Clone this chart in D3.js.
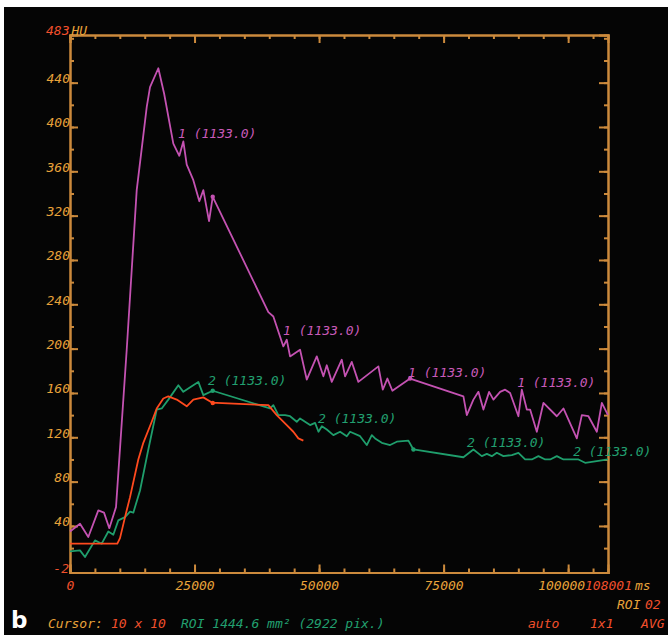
<!DOCTYPE html>
<html>
<head>
<meta charset="utf-8">
<style>
  body { margin: 0; background: #fff; }
  svg { display: block; }
  text { font-family: "DejaVu Sans Mono", monospace; font-style: italic; font-size: 13px; }
</style>
<script src="https://d3js.org/d3.v7.min.js"></script>
</head>
<body>
<svg width="668" height="635"></svg>
<script>
// time (ms) and enhancement (HU) per ROI
var roi1Time = [0, 2008, 3675, 5683, 6827, 7891, 9237, 11385, 13393, 15401, 16064, 17731, 18900, 20742, 21947, 22751, 23434, 24758, 25963, 26767, 27911, 28654,
  39818, 40822, 42830, 43513, 44177, 46184, 47529, 49537, 50863, 51545, 52550, 54557, 55220, 56565, 57891, 61907, 62791, 63714, 64718, 68272,
  78975, 79658, 80983, 81987, 82991, 84135, 85000, 86344, 87348, 88352, 90018, 90701, 91705, 92368, 93713, 95038, 97728, 99053, 101743, 102747, 104072, 105759, 106763, 108001];
var roi1HU = [35, 42, 30, 54, 52, 38, 57, 199, 343, 418, 436, 453, 430, 385, 374, 387, 366, 352, 333, 343, 315, 337,
  233, 229, 202, 208, 193, 199, 172, 193, 175, 185, 170, 190, 175, 188, 170, 184, 163, 173, 162, 173,
  157, 140, 154, 161, 145, 161, 154, 161, 163, 160, 139, 163, 145, 145, 125, 151, 139, 146, 119, 140, 139, 125, 151, 140];

var roi2Time = [0, 2008, 3012, 5020, 6365, 7691, 8695, 9699, 11044, 12048, 12711, 14056, 15722, 17409, 18413, 19739, 21747, 22751, 24437, 25762, 26767, 28654,
  40160, 40822, 41827, 43172, 44176, 45521, 46184, 48192, 49196, 49879, 50562, 51545, 52871, 54216, 55562, 56225, 58233, 59578, 60582, 61245, 62590, 64256, 65602, 67931, 68935,
  78975, 80983, 82670, 83674, 84678, 85682, 87007, 88693, 90018, 91364, 92709, 94034, 95378, 96384, 97728, 99053, 100400, 102067, 103412, 105079, 108001];
var roi2HU = [17, 18, 12, 27, 24, 35, 32, 45, 48, 53, 52, 72, 109, 145, 146, 154, 167, 161, 166, 170, 158, 162,
  146, 149, 140, 140, 139, 134, 137, 131, 133, 125, 130, 127, 122, 125, 121, 125, 121, 113, 122, 119, 115, 113, 116, 117, 109,
  102, 109, 103, 105, 103, 106, 103, 104, 106, 100, 100, 103, 100, 100, 103, 100, 100, 100, 97, 98, 100];

var roi3Time = [0, 9498, 10040, 11044, 12048, 13714, 14719, 16405, 17409, 18735, 19739, 21425, 23434, 24758, 26767, 28654, 29457, 39818, 41506, 43514, 44837, 45841, 46845];
var roi3HU = [24, 24, 29, 48, 66, 100, 115, 134, 146, 155, 157, 154, 148, 154, 156, 151, 151, 149, 140, 131, 125, 119, 117];

// marked sample points
var roi1Marks = [28654, 68272];
var roi2Marks = [28654, 68935];
var roi3Marks = [28654];

// curve annotations (position in ms / HU)
var roi1LabelTime = [21686, 42770, 67870, 89760];
var roi1LabelHU = [390, 212, 174, 165];
var roi2LabelTime = [27710, 49800, 79720, 101000];
var roi2LabelHU = [167, 133, 111, 103];
var roi1LabelText = "1 (1133.0)";
var roi2LabelText = "2 (1133.0)";

var xMajor = [0, 25000, 50000, 75000, 100000];
var xMinor = d3.range(0, 108001, 5000);
var yMajor = [40, 80, 120, 160, 200, 240, 280, 320, 360, 400, 440];
var yMinor = d3.range(20, 483, 20);
var yMin = -2, yMax = 483, xMax = 108001;

var svg = d3.select("svg");
var axisColor = "#cc8a3c", labelColor = "#e9a33a", redText = "#f2502c";

svg.append("rect").attr("x", 4).attr("y", 7).attr("width", 664).attr("height", 628).attr("fill", "#050505");

var x = d3.scaleLinear().domain([0, xMax]).range([70, 608]);
var y = d3.scaleLinear().domain([yMin, yMax]).range([572.5, 35]);

function styleAxis(g) {
  g.selectAll("path, line").attr("stroke", axisColor).attr("stroke-width", 2);
  g.selectAll("text").attr("fill", labelColor).attr("font-family", null).attr("font-size", null);
}

// minor ticks on all four sides
svg.append("g").attr("transform", "translate(0," + y(yMin) + ")")
  .call(d3.axisBottom(x).tickValues(xMinor).tickSize(-4).tickFormat("")).call(styleAxis);
svg.append("g").attr("transform", "translate(0," + y(yMax) + ")")
  .call(d3.axisTop(x).tickValues(xMinor).tickSize(-4).tickFormat("")).call(styleAxis);
svg.append("g").attr("transform", "translate(" + x(0) + ",0)")
  .call(d3.axisLeft(y).tickValues(yMinor).tickSize(-4).tickFormat("")).call(styleAxis);
svg.append("g").attr("transform", "translate(" + x(xMax) + ",0)")
  .call(d3.axisRight(y).tickValues(yMinor).tickSize(-4).tickFormat("")).call(styleAxis);

// major ticks + labels
var gx = svg.append("g").attr("transform", "translate(0," + y(yMin) + ")")
  .call(d3.axisBottom(x).tickValues(xMajor).tickSize(-8).tickPadding(8).tickFormat(d3.format("d"))).call(styleAxis);
gx.selectAll(".tick text").filter(function(d) { return d === 0; }).attr("fill", redText);
gx.selectAll(".tick text").filter(function(d) { return d === 100000; }).attr("dx", "-7");
svg.append("g").attr("transform", "translate(0," + y(yMax) + ")")
  .call(d3.axisTop(x).tickValues(xMajor).tickSize(-8).tickFormat("")).call(styleAxis);
var gy = svg.append("g").attr("transform", "translate(" + x(0) + ",0)")
  .call(d3.axisLeft(y).tickValues(yMajor).tickSize(-8).tickPadding(0)).call(styleAxis);
gy.selectAll(".tick text").attr("dy", "0");
svg.append("g").attr("transform", "translate(" + x(xMax) + ",0)")
  .call(d3.axisRight(y).tickValues(yMajor).tickSize(-9).tickFormat("")).call(styleAxis);

// axis extreme labels
svg.append("text").attr("x", x(0) - 1).attr("y", y(yMin)).attr("text-anchor", "end")
  .attr("fill", redText).text(yMin);
var topLabel = svg.append("text").attr("x", x(0) - 24).attr("y", y(yMax));
topLabel.append("tspan").attr("fill", redText).text(yMax);
topLabel.append("tspan").attr("fill", labelColor).attr("dx", 2).text("HU");
var xEnd = svg.append("text").attr("x", x(xMax) - 23).attr("y", y(yMin) + 17.5);
xEnd.append("tspan").attr("fill", redText).text(xMax);
xEnd.append("tspan").attr("fill", labelColor).attr("dx", 3).text("ms");

// curves
var line = d3.line().x(function(d) { return x(d[0]); }).y(function(d) { return y(d[1]); });
var series = [
  { t: roi1Time, v: roi1HU, c: "#c452b2", marks: roi1Marks },
  { t: roi2Time, v: roi2HU, c: "#1f9e6c", marks: roi2Marks },
  { t: roi3Time, v: roi3HU, c: "#ff4a1e", marks: roi3Marks }
];
series.forEach(function(s) {
  var pts = d3.zip(s.t, s.v);
  svg.append("path").datum(pts)
    .attr("fill", "none").attr("stroke", s.c).attr("stroke-width", 1.8)
    .attr("stroke-linejoin", "round").attr("d", line);
  svg.selectAll(null).data(pts.filter(function(p) { return s.marks.indexOf(p[0]) >= 0; }))
    .enter().append("circle")
    .attr("cx", function(p) { return x(p[0]); }).attr("cy", function(p) { return y(p[1]); })
    .attr("r", 2.2).attr("fill", s.c);
});

function addLabels(ts, vs, txt, col) {
  svg.selectAll(null).data(d3.zip(ts, vs)).enter().append("text")
    .attr("x", function(d) { return x(d[0]); }).attr("y", function(d) { return y(d[1]); })
    .attr("fill", col).attr("xml:space", "preserve").text(txt);
}
addLabels(roi1LabelTime, roi1LabelHU, roi1LabelText, "#c85ab8");
addLabels(roi2LabelTime, roi2LabelHU, roi2LabelText, "#22a070");

// status lines
var roiLine = svg.append("text").attr("y", 609);
roiLine.append("tspan").attr("x", 617).attr("fill", labelColor).text("ROI");
roiLine.append("tspan").attr("x", 645).attr("fill", redText).text("02");

var statusLine = svg.append("text").attr("y", 628);
statusLine.append("tspan").attr("x", 48).attr("fill", labelColor).text("Cursor:");
statusLine.append("tspan").attr("x", 111).attr("fill", redText).text("10 x 10");
statusLine.append("tspan").attr("x", 181).attr("fill", "#22a070").text("ROI 1444.6 mm\u00b2 (2922 pix.)");
statusLine.append("tspan").attr("x", 528).attr("fill", redText).text("auto");
statusLine.append("tspan").attr("x", 590).attr("fill", redText).text("1x1");
statusLine.append("tspan").attr("x", 641).attr("fill", redText).text("AVG");

svg.append("text").attr("x", 11).attr("y", 628)
  .attr("fill", "#fff").style("font-family", "'DejaVu Sans', sans-serif").style("font-style", "normal")
  .style("font-weight", "bold").style("font-size", "23px").text("b");
</script>
</body>
</html>
